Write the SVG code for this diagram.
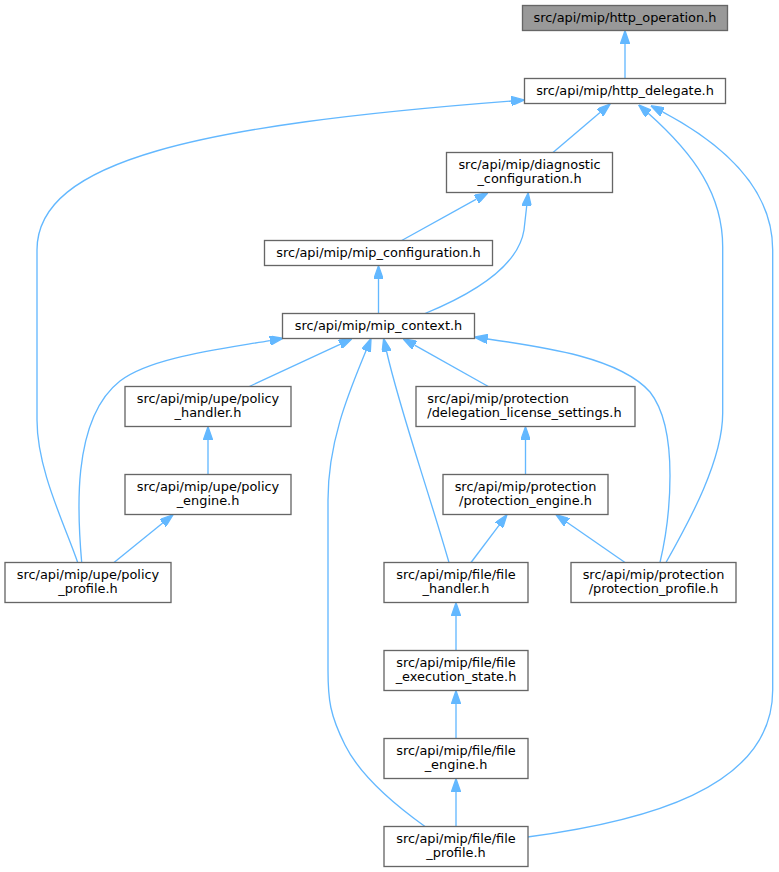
<svg xmlns="http://www.w3.org/2000/svg" width="779" height="872" viewBox="0 0 779 872">
<style>
.n rect{fill:#ffffff;stroke:#666666;stroke-width:1.33}
.n.root rect{fill:#999999}
.n text{font-family:"DejaVu Sans","Noto Sans",sans-serif;font-size:12.9px;fill:#000000;text-anchor:middle}
.n text.l{text-anchor:start}
#edges path{fill:none;stroke:#63b8ff;stroke-width:1.33;marker-end:url(#ah)}
</style>
<defs>
<marker id="ah" viewBox="0 0 10 7" refX="0" refY="3.5" markerUnits="userSpaceOnUse" markerWidth="13.3" markerHeight="9.3" orient="auto">
<polygon points="0,0 10,3.5 0,7" fill="#63b8ff" stroke="#63b8ff" stroke-width="1"/>
</marker>
</defs>
<rect x="0" y="0" width="779" height="872" fill="#ffffff"/>
<g id="edges">
<path d="M625,78.5 L625,44"/>
<path d="M553,152.5 L600,112.6"/>
<path d="M77.7,562.5 C65,525 37,470 37,420 L37,250 C37,160 200,125 511.3,101"/>
<path d="M666,562.5 C690,520 722.7,460 722.7,413 L722.7,247 C722.7,195 695,155 648.5,113.6"/>
<path d="M527.5,837 C640,822 772.7,790 772.7,690 L772.7,250 C772.7,190 725,145 662.6,111.9"/>
<path d="M401.7,240.5 L476.4,199.1"/>
<path d="M425,313.5 C470,295 518,268 524,230 L526.7,206"/>
<path d="M378.5,313.5 L378.5,279"/>
<path d="M249.3,386.5 L340,344.3"/>
<path d="M81.7,562.5 C78,520 70,420 120,381 C150,358 215,350 269.9,340.6"/>
<path d="M449,562.5 C425,480 400,410 386.6,351.5"/>
<path d="M425,826.5 C395,805 360,775 345,745 C330,715 328,700 328,670 L328,500 C328,440 350,390 366,350.8"/>
<path d="M488.3,386.5 L414.6,345.2"/>
<path d="M660,562.5 C670,520 680,430 650,392 C620,358 545,347 487.7,339"/>
<path d="M525.5,474.5 L525.5,440"/>
<path d="M208,474.5 L208,440"/>
<path d="M114,562.5 L162.7,523.1"/>
<path d="M471,562.5 L499,525.3"/>
<path d="M625,562.5 L566.9,522.3"/>
<path d="M456,650.5 L456,616"/>
<path d="M456,738.5 L456,704"/>
<path d="M456,826.5 L456,792"/>
</g>
<g id="node1" class="n root"><rect x="522.5" y="5.5" width="205" height="25"/><text x="625" y="21.8">src/api/mip/http_operation.h</text></g>
<g id="node2" class="n"><rect x="524.5" y="78.5" width="201" height="25"/><text x="625" y="94.8">src/api/mip/http_delegate.h</text></g>
<g id="node3" class="n"><rect x="446.5" y="152.5" width="166" height="40"/><text x="529.5" y="168.5">src/api/mip/diagnostic</text><text x="529.5" y="183">_configuration.h</text></g>
<g id="node4" class="n"><rect x="264.5" y="240.5" width="228" height="25"/><text x="378.5" y="256.8">src/api/mip/mip_configuration.h</text></g>
<g id="node5" class="n"><rect x="282.5" y="313.5" width="192" height="25"/><text x="378.5" y="329.8">src/api/mip/mip_context.h</text></g>
<g id="node6" class="n"><rect x="125" y="386.5" width="166" height="40"/><text x="208" y="402.5">src/api/mip/upe/policy</text><text x="208" y="417">_handler.h</text></g>
<g id="node7" class="n"><rect x="416" y="386.5" width="219" height="40"/><text class="l" x="427.3" y="402.5">src/api/mip/protection</text><text class="l" x="427.3" y="417">/delegation_license_settings.h</text></g>
<g id="node8" class="n"><rect x="125" y="474.5" width="166" height="40"/><text x="208" y="490.5">src/api/mip/upe/policy</text><text x="208" y="505">_engine.h</text></g>
<g id="node9" class="n"><rect x="443" y="474.5" width="165" height="40"/><text x="525.5" y="490.5">src/api/mip/protection</text><text x="525.5" y="505">/protection_engine.h</text></g>
<g id="node10" class="n"><rect x="5" y="562.5" width="166" height="40"/><text x="88" y="578.5">src/api/mip/upe/policy</text><text x="88" y="593">_profile.h</text></g>
<g id="node11" class="n"><rect x="384" y="562.5" width="144" height="40"/><text x="456" y="578.5">src/api/mip/file/file</text><text x="456" y="593">_handler.h</text></g>
<g id="node12" class="n"><rect x="571" y="562.5" width="165" height="40"/><text x="653.5" y="578.5">src/api/mip/protection</text><text x="653.5" y="593">/protection_profile.h</text></g>
<g id="node13" class="n"><rect x="384" y="650.5" width="144" height="40"/><text x="456" y="666.5">src/api/mip/file/file</text><text x="456" y="681">_execution_state.h</text></g>
<g id="node14" class="n"><rect x="384" y="738.5" width="144" height="40"/><text x="456" y="754.5">src/api/mip/file/file</text><text x="456" y="769">_engine.h</text></g>
<g id="node15" class="n"><rect x="384" y="826.5" width="144" height="40"/><text x="456" y="842.5">src/api/mip/file/file</text><text x="456" y="857">_profile.h</text></g>
</svg>
